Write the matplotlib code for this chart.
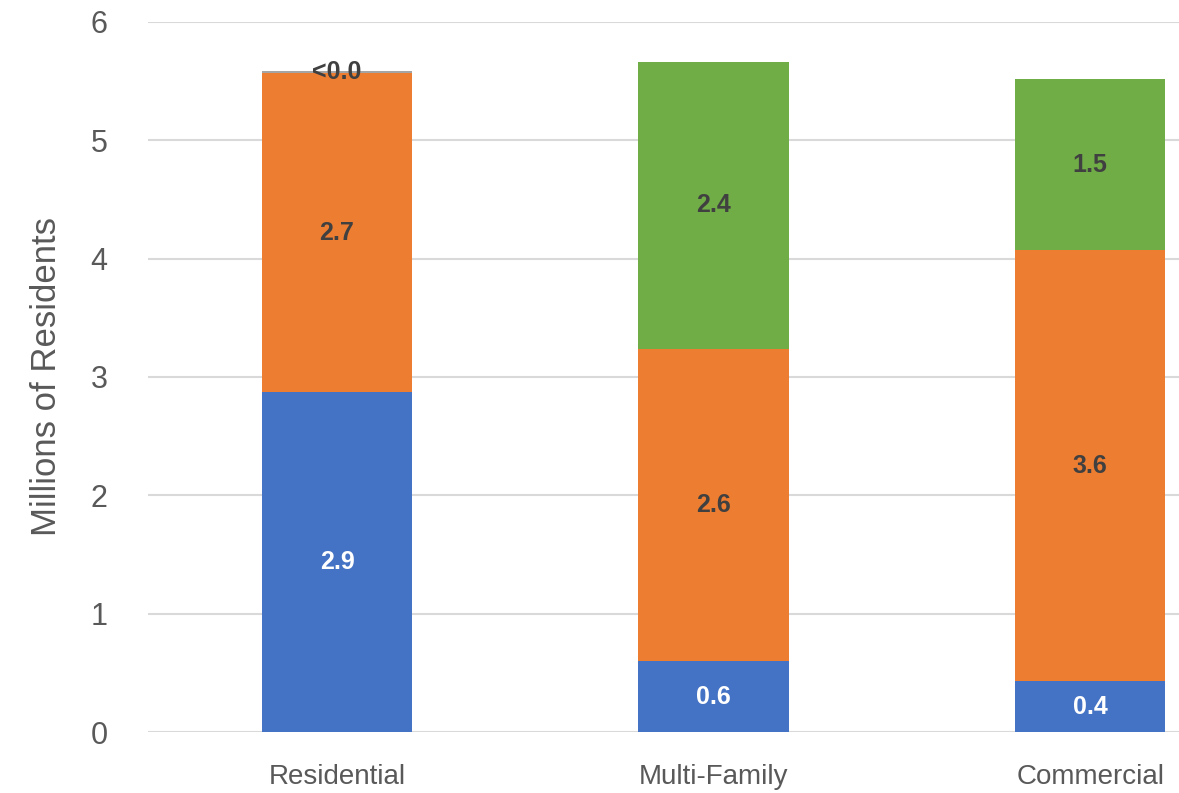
import matplotlib.pyplot as plt
import numpy as np

plt.rcParams['font.family'] = ['Liberation Sans', 'DejaVu Sans']

categories = ["Residential", "Multi-Family", "Commercial"]
blue_vals = [2.87, 0.60, 0.43]
orange_vals = [2.70, 2.64, 3.64]
green_vals = [0.0, 2.42, 1.45]
gray_vals = [0.012, 0.0, 0.0]

blue_labels = ["2.9", "0.6", "0.4"]
orange_labels = ["2.7", "2.6", "3.6"]
green_labels = ["", "2.4", "1.5"]
gray_labels = ["<0.0", "", ""]

series = [
    (blue_vals, blue_labels, "#4472C4", "white"),
    (orange_vals, orange_labels, "#ED7D31", "#404040"),
    (green_vals, green_labels, "#70AD47", "#404040"),
    (gray_vals, gray_labels, "#A5A5A5", "#404040"),
]

fig = plt.figure(figsize=(11.79, 7.93), dpi=100)
ax = fig.add_axes([0.1255, 0.0769, 0.8745, 0.8954])

x = np.arange(len(categories))
bottom = np.zeros(len(categories))
for vals, labels, color, tcolor in series:
    vals = np.array(vals)
    ax.bar(x, vals, 0.4, bottom=bottom, color=color, zorder=2)
    for xi, b, v, lab in zip(x, bottom, vals, labels):
        if lab:
            ax.text(xi, b + v / 2, lab, ha="center", va="center",
                    fontsize=18, fontweight="bold", color=tcolor, zorder=3)
    bottom = bottom + vals

ax.set_ylim(0, 6)
ax.set_xlim(-0.502, 2.236)
ax.set_yticks(range(7))
ax.set_xticks(x, categories)
ax.grid(axis="y", color="#D9D9D9", linewidth=1.5, zorder=0)
for s in ax.spines.values():
    s.set_visible(False)
ax.tick_params(axis="both", length=0, colors="#595959")
ax.tick_params(axis="y", labelsize=22, pad=29)
ax.tick_params(axis="x", labelsize=20, pad=23)
ax.set_ylabel("Millions of Residents", fontsize=25, color="#595959", labelpad=20)

fig.savefig("out.png", dpi=100)
